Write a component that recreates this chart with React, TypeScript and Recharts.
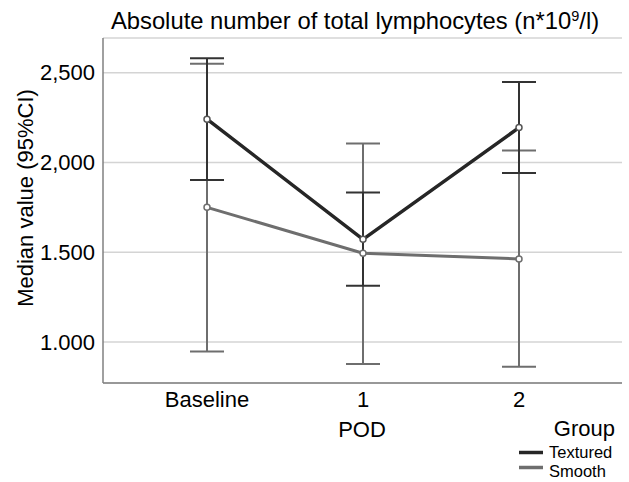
import React from 'react';
import { LineChart, Line, XAxis, YAxis, CartesianGrid, ErrorBar } from 'recharts';

const categories = ['Baseline', '1', '2'];
const texturedMedian = [2241, 1572, 2194];
const texturedLower = [1902, 1313, 1941];
const texturedUpper = [2580, 1833, 2448];
const smoothMedian = [1750, 1495, 1463];
const smoothLower = [948, 878, 863];
const smoothUpper = [2550, 2105, 2067];
const yTicks = [1000, 1500, 2000, 2500];
const yTickLabels = ['1.000', '1.500', '2,000', '2,500'];

const data = categories.map((c, i) => ({
  cat: c,
  textured: texturedMedian[i],
  texturedErr: [texturedMedian[i] - texturedLower[i], texturedUpper[i] - texturedMedian[i]],
  smooth: smoothMedian[i],
  smoothErr: [smoothMedian[i] - smoothLower[i], smoothUpper[i] - smoothMedian[i]],
}));

const FONT = '"Liberation Sans", Arial, sans-serif';
const DARK = '#262626';
const GRAY = '#6e6e6e';

export default function App() {
  return (
    <div style={{ position: 'absolute', left: 0, top: 0, width: 629, height: 482, background: '#fff', fontFamily: FONT }}>
      <LineChart width={629} height={482} data={data} margin={{ top: 38, right: 7, bottom: 59, left: 0 }}>
        <CartesianGrid vertical={false} stroke="#d4d4d4" strokeWidth={1.5} />
        <XAxis
          dataKey="cat"
          padding={{ left: 104, right: 103 }}
          tickLine={false}
          axisLine={{ stroke: '#808080', strokeWidth: 1.5 }}
          tick={{ fontSize: 22, fill: '#000', fontFamily: FONT }}
          height={40}
          interval={0}
        />
        <YAxis
          domain={[772, 2693]}
          allowDataOverflow
          ticks={yTicks}
          tickFormatter={(v: number) => yTickLabels[yTicks.indexOf(v)]}
          tickLine={false}
          axisLine={{ stroke: '#808080', strokeWidth: 1.5 }}
          tick={{ fontSize: 22, fill: '#000', fontFamily: FONT }}
          width={103}
        />
        <Line
          dataKey="smooth"
          stroke={GRAY}
          strokeWidth={3}
          isAnimationActive={false}
          dot={{ r: 3, stroke: GRAY, strokeWidth: 1.5, fill: '#fff' }}
        >
          <ErrorBar dataKey="smoothErr" width={17} stroke={GRAY} strokeWidth={2} direction="y" />
        </Line>
        <Line
          dataKey="textured"
          stroke={DARK}
          strokeWidth={3.5}
          isAnimationActive={false}
          dot={{ r: 3, stroke: '#555', strokeWidth: 1.5, fill: '#fff' }}
        >
          <ErrorBar dataKey="texturedErr" width={17} stroke="#333" strokeWidth={2} direction="y" />
        </Line>
      </LineChart>
      <svg width={629} height={482} style={{ position: 'absolute', left: 0, top: 0, pointerEvents: 'none' }}>
        <text x={355} y={29} textAnchor="middle" fontSize={23.8} fontFamily={FONT} fill="#000">
          Absolute number of total lymphocytes (n*10<tspan fontSize={14.5} dy={-8.5}>9</tspan><tspan dy={8.5}>/l)</tspan>
        </text>
        <text x={0} y={0} transform="translate(33,198) rotate(-90)" textAnchor="middle" fontSize={22} fontFamily={FONT} fill="#000">
          Median value (95%CI)
        </text>
        <text x={362} y={437} textAnchor="middle" fontSize={22} fontFamily={FONT} fill="#000">POD</text>
        <text x={615} y={436} textAnchor="end" fontSize={22} fontFamily={FONT} fill="#000">Group</text>
        <line x1={519} y1={452.5} x2={543} y2={452.5} stroke={DARK} strokeWidth={3.5} />
        <text x={549} y={458} fontSize={16.5} fontFamily={FONT} fill="#000">Textured</text>
        <line x1={519} y1={467.5} x2={543} y2={467.5} stroke={GRAY} strokeWidth={3.5} />
        <text x={549} y={476.5} fontSize={16.5} fontFamily={FONT} fill="#000">Smooth</text>
      </svg>
    </div>
  );
}
